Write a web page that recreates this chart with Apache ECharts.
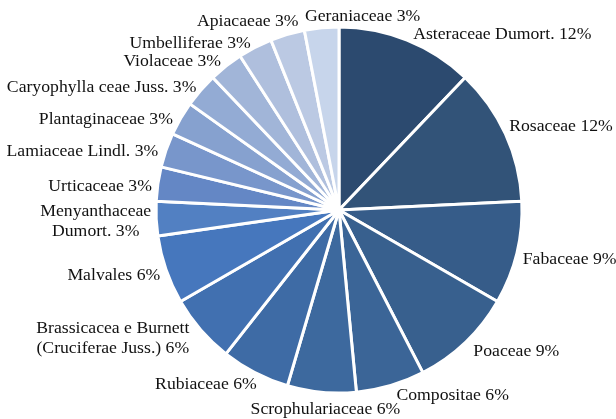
<!DOCTYPE html>
<html>
<head>
<meta charset="utf-8">
<script src="https://cdn.jsdelivr.net/npm/echarts@6/dist/echarts.min.js"></script>
<style>html,body{margin:0;padding:0;background:#fff}#c{width:616px;height:419px}</style>
</head>
<body>
<div id="c"></div>
<script>
const families = ["Asteraceae Dumort.", "Rosaceae", "Fabaceae", "Poaceae", "Compositae", "Scrophulariaceae", "Rubiaceae", "Brassicacea e Burnett\n(Cruciferae Juss.)", "Malvales", "Menyanthaceae\nDumort.", "Urticaceae", "Lamiaceae Lindl.", "Plantaginaceae", "Caryophylla ceae Juss.", "Violaceae", "Umbelliferae", "Apiacaeae", "Geraniaceae"];
const counts = [4, 4, 3, 3, 2, 2, 2, 2, 2, 1, 1, 1, 1, 1, 1, 1, 1, 1];
const colors = ["#2c4a6f", "#325378", "#365c89", "#38608e", "#3b6597", "#3d699e", "#3e6ba5", "#4170b0", "#4677bd", "#5280c2", "#6487c5", "#7896cb", "#86a1cf", "#93abd4", "#a1b5d8", "#afbfdd", "#bbc9e3", "#c7d5eb"];

// label nudges (text placement only), [dx, dy], and labels drawn centre-aligned
const labelNudge = [[1, -3], [-3, -6], [-1, 6], [2, 7], [1, 7], [83, 14], [7, 9], [-5, 7], [1, 5], [2, 3], [1, 3], [-1, 2], [-1, 2], [2, -1], [1, -2], [1, -1], [16, -10], [103, -8]];
const centredLabels = [7, 9];

const total = counts.reduce((a, b) => a + b, 0);
const chart = echarts.init(document.getElementById('c'));
chart.setOption({
  animation: false,
  series: [{
    type: 'pie',
    center: [339, 210],
    radius: [0, 183],
    startAngle: 90,
    clockwise: true,
    avoidLabelOverlap: false,
    itemStyle: { borderColor: '#fff', borderWidth: 3 },
    label: {
      show: true,
      position: 'outside',
      fontFamily: 'Liberation Serif',
      fontSize: 17.7,
      color: '#111',
      lineHeight: 20,
      overflow: 'none',
      distanceToLabelLine: 4,
      formatter: p => p.name + ' ' + Math.round(p.value / total * 100) + '%'
    },
    labelLayout: p => {
      const n = labelNudge[p.dataIndex] || [0, 0];
      if (centredLabels.indexOf(p.dataIndex) >= 0) {
        return { hideOverlap: false, x: p.labelRect.x + p.labelRect.width / 2 + n[0], align: 'center', dy: n[1] };
      }
      return { hideOverlap: false, dx: n[0], dy: n[1] };
    },
    labelLine: { show: false, length: 3, length2: 0 },
    data: families.map((n, i) => ({ name: n, value: counts[i], itemStyle: { color: colors[i] } }))
  }]
});
</script>
</body>
</html>
